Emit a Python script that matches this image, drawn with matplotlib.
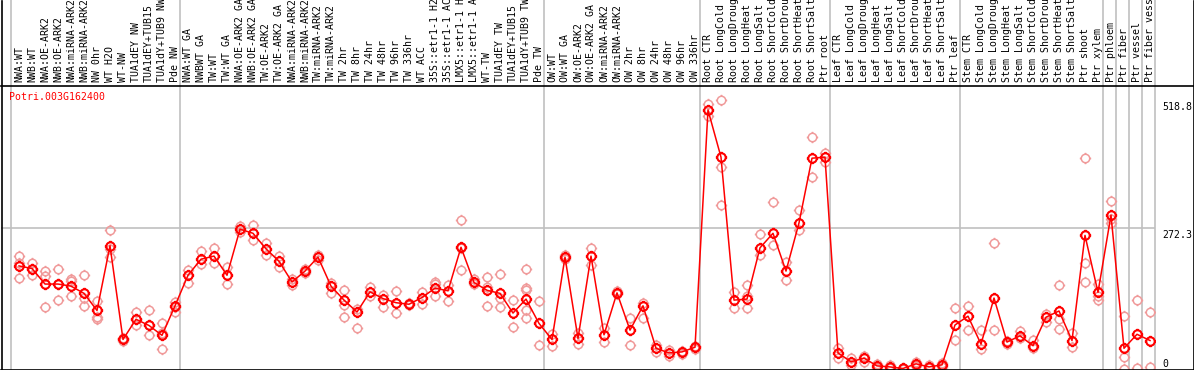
import matplotlib
matplotlib.use("Agg")
import matplotlib.pyplot as plt
from matplotlib.path import Path
from matplotlib.lines import Line2D
import matplotlib.transforms as mtransforms

# ---------------- data ----------------
gene_id = "Potri.003G162400"

labels = [
    "NWA:WT", "NWB:WT", "NWA:OE-ARK2", "NWB:OE-ARK2", "NWA:miRNA-ARK2", "NWB:miRNA-ARK2",
    "NW 0hr", "WT H2O", "WT-NW", "TUA1dEY NW", "TUA1dEY+TUB15", "TUA1dY+TUB9 NW", "Pde NW",
    "NWA:WT GA", "NWBWT GA", "TW:WT", "TW:WT GA", "NWA:OE-ARK2 GA", "NWB:OE-ARK2 GA",
    "TW:OE-ARK2", "TW:OE-ARK2 GA", "NWA:miRNA-ARK2", "NWB:miRNA-ARK2", "TW:miRNA-ARK2",
    "TW:miRNA-ARK2", "TW 2hr", "TW 8hr", "TW 24hr", "TW 48hr", "TW 96hr", "TW 336hr",
    "WT ACC", "35S::etr1-1 H2", "35S::etr1-1 AC", "LMX5::etr1-1 H", "LMX5::etr1-1 A",
    "WT-TW", "TUA1dEY TW", "TUA1dEY+TUB15", "TUA1dY+TUB9 TW", "Pde TW",
    "OW:WT", "OW:WT GA", "OW:OE-ARK2", "OW:OE-ARK2 GA", "OW:miRNA-ARK2", "OW:miRNA-ARK2",
    "OW 2hr", "OW 8hr", "OW 24hr", "OW 48hr", "OW 96hr", "OW 336hr",
    "Root CTR", "Root LongCold", "Root LongDroug", "Root LongHeat", "Root LongSalt",
    "Root ShortCold", "Root ShortDrou", "Root ShortHeat", "Root ShortSalt", "Ptr root",
    "Leaf CTR", "Leaf LongCold", "Leaf LongDroug", "Leaf LongHeat", "Leaf LongSalt",
    "Leaf ShortCold", "Leaf ShortDrou", "Leaf ShortHeat", "Leaf ShortSalt", "Ptr leaf",
    "Stem CTR", "Stem LongCold", "Stem LongDroug", "Stem LongHeat", "Stem LongSalt",
    "Stem ShortCold", "Stem ShortDrou", "Stem ShortHeat", "Stem ShortSalt", "Ptr shoot",
    "Ptr xylem", "Ptr phloem", "Ptr fiber", "Ptr vessel", "Ptr fiber vess",
]

means = [
    199, 194, 164, 164, 160, 146, 113, 238, 57, 96, 84, 65, 122,
    181, 212, 218, 181, 270, 262, 232, 208, 168, 189, 216, 160, 133, 110,
    149, 136, 128, 125, 138, 156, 151, 235, 167, 152, 146, 108, 135, 88,
    57, 216, 59, 218, 66, 147, 75, 122, 40, 31, 33, 42,
    500, 409, 133, 135, 234, 262, 189, 282, 407, 409,
    31, 14, 21, 6, 4, 1, 10, 4, 8, 85,
    102, 48, 137, 52, 64, 45, 100, 112, 55, 258,
    148, 297, 40, 67, 55,
]

replicates = [
    [218, 204, 175], [204, 194, 181], [190, 180, 119], [194, 164, 133], [173, 169, 140],
    [181, 138, 122], [131, 101, 96], [268, 231, 217], [60, 57, 55], [110, 96, 84],
    [114, 84, 65], [89, 69, 38], [130, 120, 111],
    [191, 166], [228, 203], [233, 205], [196, 165], [276, 264], [278, 250], [243, 221],
    [218, 197], [173, 162], [194, 185], [220, 211], [166, 147], [152, 124, 100], [116, 79],
    [158, 141], [143, 120], [151, 108], [127, 123], [149, 125], [167, 164, 141], [162, 131],
    [287, 234, 191], [173, 165], [177, 159, 121], [183, 138, 119], [133, 81],
    [193, 156, 152, 114, 99], [131, 46],
    [68, 45], [220, 212], [70, 48], [233, 201], [79, 52], [150, 144], [98, 46], [128, 98],
    [46, 33], [37, 25], [35, 29], [44, 39],
    [512, 488], [518.8, 390, 317], [149, 118], [162, 140, 118], [261, 220], [322, 239],
    [207, 172], [307, 268], [448, 371], [417, 400],
    [40, 21], [22, 8], [25, 14], [10, 2], [8, 1], [2, 0], [14, 6], [7, 1], [12, 4], [118, 56],
    [122, 75], [75, 38], [243, 75], [54, 49], [74, 59], [56, 41], [107, 91], [162, 96, 78],
    [69, 43], [407, 204, 167],
    [165, 140, 133], [324, 289, 281], [102, 23, 0], [134, 1], [111, 4],
]

group_starts = [0, 13, 41, 53, 63, 73, 84, 85, 86, 87, 88]
ytick_values = [518.8, 272.3, 0]
ytick_labels = ["518.8", "272.3", "0"]

# ---------------- layout ----------------
W, H = 1194, 370
fig = plt.figure(figsize=(W / 100, H / 100), dpi=100)
FONT = "DejaVu Sans Mono"
FS = 7.1

ax_left, ax_right, ax_top, ax_bottom = 1, 1155, 85, 369
ax = fig.add_axes([ax_left / W, 1 - ax_bottom / H,
                   (ax_right - ax_left) / W, (ax_bottom - ax_top) / H])
for s in ax.spines.values():
    s.set_visible(False)
ax.set_xticks([])
ax.set_yticks([])

n = len(labels)
xs = list(range(n))
off = 0.615
ax.set_xlim(-1 - 0.385, n - off)
ax.set_ylim(0, 548.3)

# grid line at 272.3
ax.axhline(ytick_values[1], color="#c0c0c0", lw=1.2, zorder=1)

# group separators spanning header too
hdr = (ax_bottom - 0) / (ax_bottom - ax_top)
for g in group_starts:
    ax.axvline(g - off, ymin=0, ymax=hdr, color="#c0c0c0", lw=1.2, clip_on=False, zorder=1)

# custom circle marker with small ticks
R = 0.74
circ = Path.circle((0, 0), R)
ticks = Path([(0, R), (0, 1.0), (0, -R), (0, -1.0),
              (R, 0), (1.0, 0), (-R, 0), (-1.0, 0)],
             [Path.MOVETO, Path.LINETO] * 4)
marker_path = Path.make_compound_path(circ, ticks)
MS = 8.2

# replicates
rx, ry = [], []
for i, reps in enumerate(replicates):
    for v in reps:
        rx.append(xs[i])
        ry.append(v)
ax.plot(rx, ry, linestyle="none", marker=marker_path, markersize=MS,
        markerfacecolor="none", markeredgecolor="#f09a9a", markeredgewidth=1.1,
        zorder=2, clip_on=True)

# mean line
ax.plot(xs, means, color="#ff0000", lw=1.1, marker=marker_path, markersize=MS,
        markerfacecolor="none", markeredgecolor="#ff0000", markeredgewidth=1.5,
        zorder=3)

# header labels
blend = mtransforms.blended_transform_factory(ax.transData, ax.transAxes)
lab_y = 1 + 3 / (ax_bottom - ax_top)
for i, lab in enumerate(labels):
    ax.text(xs[i], lab_y, lab, rotation=90, ha="center", va="bottom",
            fontsize=FS, family=FONT, color="black", transform=blend, clip_on=False)

# gene id
ax.text((9 - ax_left) / (ax_right - ax_left), 1 - (97 - ax_top) / (ax_bottom - ax_top),
        gene_id, transform=ax.transAxes, ha="left", va="center",
        fontsize=FS, family=FONT, color="#ff0000")

# right-hand value labels
yblend = mtransforms.blended_transform_factory(fig.transFigure, ax.transData)
for v, t in zip(ytick_values, ytick_labels):
    va = "bottom" if v == 0 else "top"
    yy = v - 4 if v != 0 else v
    ax.text(1162 / W, yy, t, transform=yblend, ha="left", va=va,
            fontsize=FS, family=FONT, color="black", clip_on=False)

# outer frame lines (figure pixel coords)
def fx(px):
    return (px + 0.5) / W

def fy(py):
    return 1 - (py + 0.5) / H

for (x0, y0, x1, y1) in [(1, 0, 1, 369), (1193, 0, 1193, 369),
                         (0, 369, 1194, 369), (0, 85, 1194, 85)]:
    fig.add_artist(Line2D([fx(x0), fx(x1)], [fy(y0), fy(y1)],
                          color="black", lw=1.2, transform=fig.transFigure))

fig.savefig("out.png", dpi=100)
